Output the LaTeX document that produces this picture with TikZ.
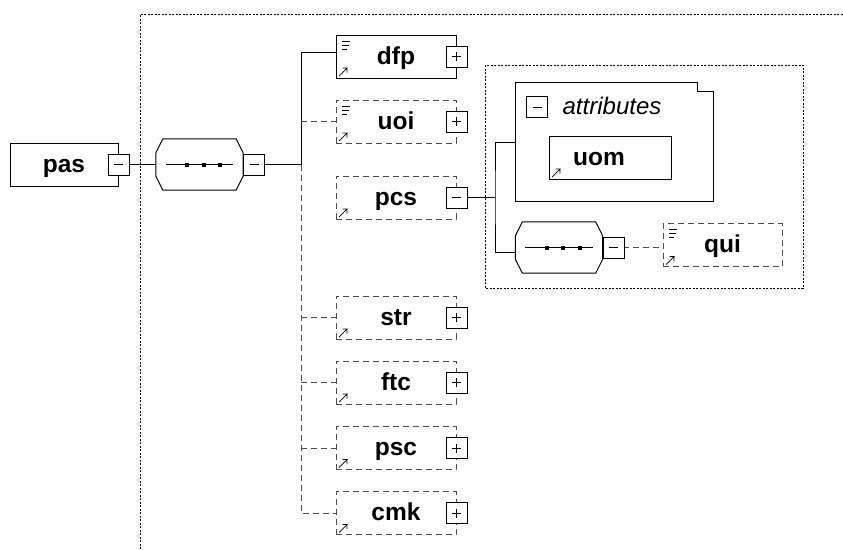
\documentclass[tikz,border=0pt]{standalone}
\usepackage{fontspec}
\setmainfont{Liberation Sans}
\usepackage{tikz}

\newcommand{\refmark}{%
  \draw[solid,black,line width=0.7pt] ([shift={(3pt,2pt)}]path picture bounding box.south west) -- ++(8pt,8pt) -- ++(-4.5pt,0pt) ++(4.5pt,0pt) -- ++(0pt,-4.5pt);}
\newcommand{\docmark}{%
  \draw[solid,black,line width=0.7pt] ([shift={(6pt,-6pt)}]path picture bounding box.north west) -- ++(8pt,0pt)
    ++(-8pt,-4pt) -- ++(7pt,0pt) ++(-7pt,-4pt) -- ++(5pt,0pt);}
\newcommand{\seqoct}[1]{%
  \draw[line width=1pt] ([xshift=7pt]#1.north west) -- ([xshift=-7pt]#1.north east) -- ([yshift=-14pt]#1.north east)
    -- ([yshift=14pt]#1.south east) -- ([xshift=-7pt]#1.south east) -- ([xshift=7pt]#1.south west)
    -- ([yshift=14pt]#1.south west) -- ([yshift=-14pt]#1.north west) -- cycle;
  \draw ([xshift=10pt]#1.west) -- ([xshift=-10pt]#1.east);
  \foreach \d in {-12.5,4,20.5}
    \fill ([shift={(\d pt-2pt,-2pt)}]#1.center) rectangle ++(4pt,4pt);}

\tikzset{
  elem/.style={draw, line width=1pt, minimum width=120pt, minimum height=43pt, inner sep=0pt,
    text height=18.5pt, text depth=3.5pt, font=\bfseries\fontsize{24.5}{28}\selectfont},
  optelem/.style={elem, draw=black!70, dash pattern=on 6pt off 4pt},
  reficon/.style={path picture={\refmark}},
  docicon/.style={path picture={\refmark\docmark}},
  pmbox/.style={draw, line width=1pt, fill=white, minimum size=21pt, inner sep=0pt},
  plusbox/.style={pmbox, path picture={\draw[line width=1pt] (path picture bounding box.center) +(-4.5pt,0pt) -- +(4.5pt,0pt) +(0pt,-4.5pt) -- +(0pt,4.5pt);}},
  minusbox/.style={pmbox, path picture={\draw[line width=1pt] (path picture bounding box.center) +(-4.5pt,0pt) -- +(4.5pt,0pt);}},
  seqbox/.style={minimum width=87pt, minimum height=51pt, inner sep=0pt},
  frame/.style={line width=0.6pt, dash pattern=on 2pt off 1.5pt},
  optline/.style={line width=1pt, draw=black!70, dash pattern=on 6pt off 4pt},
  conn/.style={line width=1pt}
}

\begin{document}
\begin{tikzpicture}[x=1pt,y=-1pt]
  \useasboundingbox (0,0) rectangle (843,549);
  \draw[frame] (140,549) |- (843,14);
  \draw[frame] (485,65) rectangle (803,288);

  % root and first sequence
  \node[elem, minimum width=108pt] (pas) at (64,164.5) {pas};
  \node[seqbox] (seqa) at (199.5,164.5) {};
  \seqoct{seqa}

  % children
  \node[elem, docicon] (dfp) at (396,56.5) {dfp};
  \node[optelem, docicon] (uoi) at (396,121.5) {uoi};
  \node[optelem, reficon] (pcs) at (396,197.5) {pcs};
  \node[optelem, reficon] (str) at (396,317.5) {str};
  \node[optelem, reficon] (ftc) at (396,382.5) {ftc};
  \node[optelem, reficon] (psc) at (396,448) {psc};
  \node[optelem, reficon] (cmk) at (396,513) {cmk};

  % inside pcs
  \node[seqbox] (attr) at (614.5,142) [minimum width=197pt, minimum height=118pt] {};
  \draw[conn] (attr.north west) -- ([xshift=-16pt]attr.north east) -- ++(0pt,-9pt) -- ([yshift=-9pt]attr.north east)
    -- (attr.south east) -- (attr.south west) -- cycle;
  \node[minusbox] (attrx) at (537,107) {};
  \node[text height=18pt, text depth=4pt, inner sep=0pt, font=\itshape\fontsize{24}{28}\selectfont] (attrlbl) at (612,107) {attributes};
  \node[elem, reficon, minimum width=122pt] (uom) at (610,157.5) {uom\hspace*{22pt}};
  \node[seqbox] (seqb) at (559,247.5) {};
  \seqoct{seqb}
  \node[optelem, docicon, minimum width=119pt] (qui) at (722.5,245) {qui};

  % connectors
  \coordinate (tr) at (301,164.5);
  \coordinate (tp) at (495,197.5);
  \draw[conn] (pas.east) -- (seqa.west);
  \draw[conn] (seqa.east) -- (tr) |- ([yshift=4.5pt]dfp.west);
  \draw[optline] (tr) |- (cmk.west);
  \foreach \n in {uoi,str,ftc,psc}
    \draw[optline] (tr |- \n.west) -- (\n.west);
  \draw[conn] (pcs.east) -- (tp);
  \draw[conn] (attr.west) -| (tp) |- ([yshift=-4.5pt]seqb.west);
  \draw[optline] (seqb.east) -- (seqb.east -| qui.west);

  % expand boxes
  \node[minusbox] (pasx) at (pas.east) {};
  \node[minusbox, anchor=west] (seqax) at (seqa.east) {};
  \node[plusbox] (dfpx) at (dfp.east) {};
  \node[plusbox] (uoix) at (uoi.east) {};
  \node[minusbox] (pcsx) at (pcs.east) {};
  \node[plusbox] (strx) at (str.east) {};
  \node[plusbox] (ftcx) at (ftc.east) {};
  \node[plusbox] (pscx) at (psc.east) {};
  \node[plusbox] (cmkx) at (cmk.east) {};
  \node[minusbox, anchor=west] (seqbx) at (seqb.east) {};
\end{tikzpicture}
\end{document}
